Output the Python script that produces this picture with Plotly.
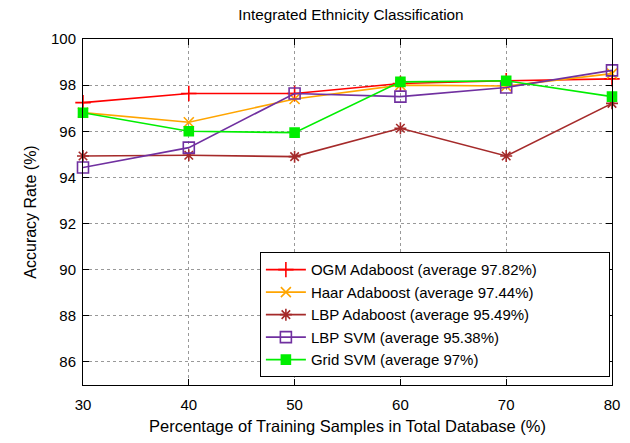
import plotly.graph_objects as go

x_vals = [30, 40, 50, 60, 70, 80]
ogm_ada = [97.24, 97.64, 97.64, 98.07, 98.19, 98.27]
haar_ada = [96.81, 96.39, 97.40, 98.00, 97.96, 98.50]
lbp_ada = [94.93, 94.96, 94.90, 96.13, 94.93, 97.21]
lbp_svm = [94.43, 95.29, 97.64, 97.50, 97.90, 98.64]
grid_svm = [96.80, 96.00, 95.94, 98.14, 98.19, 97.50]

names = [
    "OGM Adaboost (average 97.82%)",
    "Haar Adaboost (average 97.44%)",
    "LBP Adaboost (average 95.49%)",
    "LBP SVM (average 95.38%)",
    "Grid SVM (average 97%)",
]
series = [ogm_ada, haar_ada, lbp_ada, lbp_svm, grid_svm]
colors = ["#ff0000", "#ffa500", "#a52a2a", "#7030a0", "#00ee00"]
symbols = ["cross-thin-open", "x-thin-open", "asterisk-open", "square-open", "square"]
sizes = [11, 10, 10, 11, 9]

PAD = "\u00a0" * 16

fig = go.Figure()
for nm, ys, c, s, sz in zip(names, series, colors, symbols, sizes):
    fig.add_trace(go.Scatter(
        x=x_vals, y=ys, name=nm + PAD, mode="lines+markers",
        line=dict(color=c, width=1.6),
        marker=dict(symbol=s, size=sz, color=c, line=dict(color=c, width=1.6)),
        cliponaxis=False,
    ))

font_fam = "Liberation Sans, Arial, sans-serif"
fig.update_layout(
    width=630, height=443,
    margin=dict(l=83, r=10, t=39, b=55),
    paper_bgcolor="white", plot_bgcolor="white",
    font=dict(family=font_fam, color="black", size=15),
    title=dict(text="Integrated Ethnicity Classification", x=0.557, xanchor="center",
               y=0.966, yanchor="middle", font=dict(size=15.3)),
    showlegend=True,
    legend=dict(
        x=0.996, xanchor="right", y=0.022, yanchor="bottom",
        bgcolor="white", bordercolor="black", borderwidth=1,
        font=dict(size=15), tracegroupgap=0, itemwidth=40,
    ),
)
fig.update_xaxes(
    range=[30, 80], tickvals=[30, 40, 50, 60, 70, 80],
    showline=True, linecolor="black", linewidth=1, mirror="allticks",
    ticks="inside", ticklen=6, tickcolor="black", ticklabelstandoff=6,
    showgrid=True, gridcolor="#999999", griddash="dot", gridwidth=1,
    zeroline=False,
    title=dict(text="Percentage of Training Samples in Total Database (%)", font=dict(size=16.5), standoff=8),
)
fig.update_yaxes(
    range=[85, 100], tickvals=[86, 88, 90, 92, 94, 96, 98, 100],
    showline=True, linecolor="black", linewidth=1, mirror="allticks",
    ticks="inside", ticklen=6, tickcolor="black", ticklabelstandoff=3,
    showgrid=True, gridcolor="#999999", griddash="dot", gridwidth=1,
    zeroline=False,
    title=dict(text="Accuracy Rate (%)", font=dict(size=16), standoff=10),
)
fig.write_html("out.html")
